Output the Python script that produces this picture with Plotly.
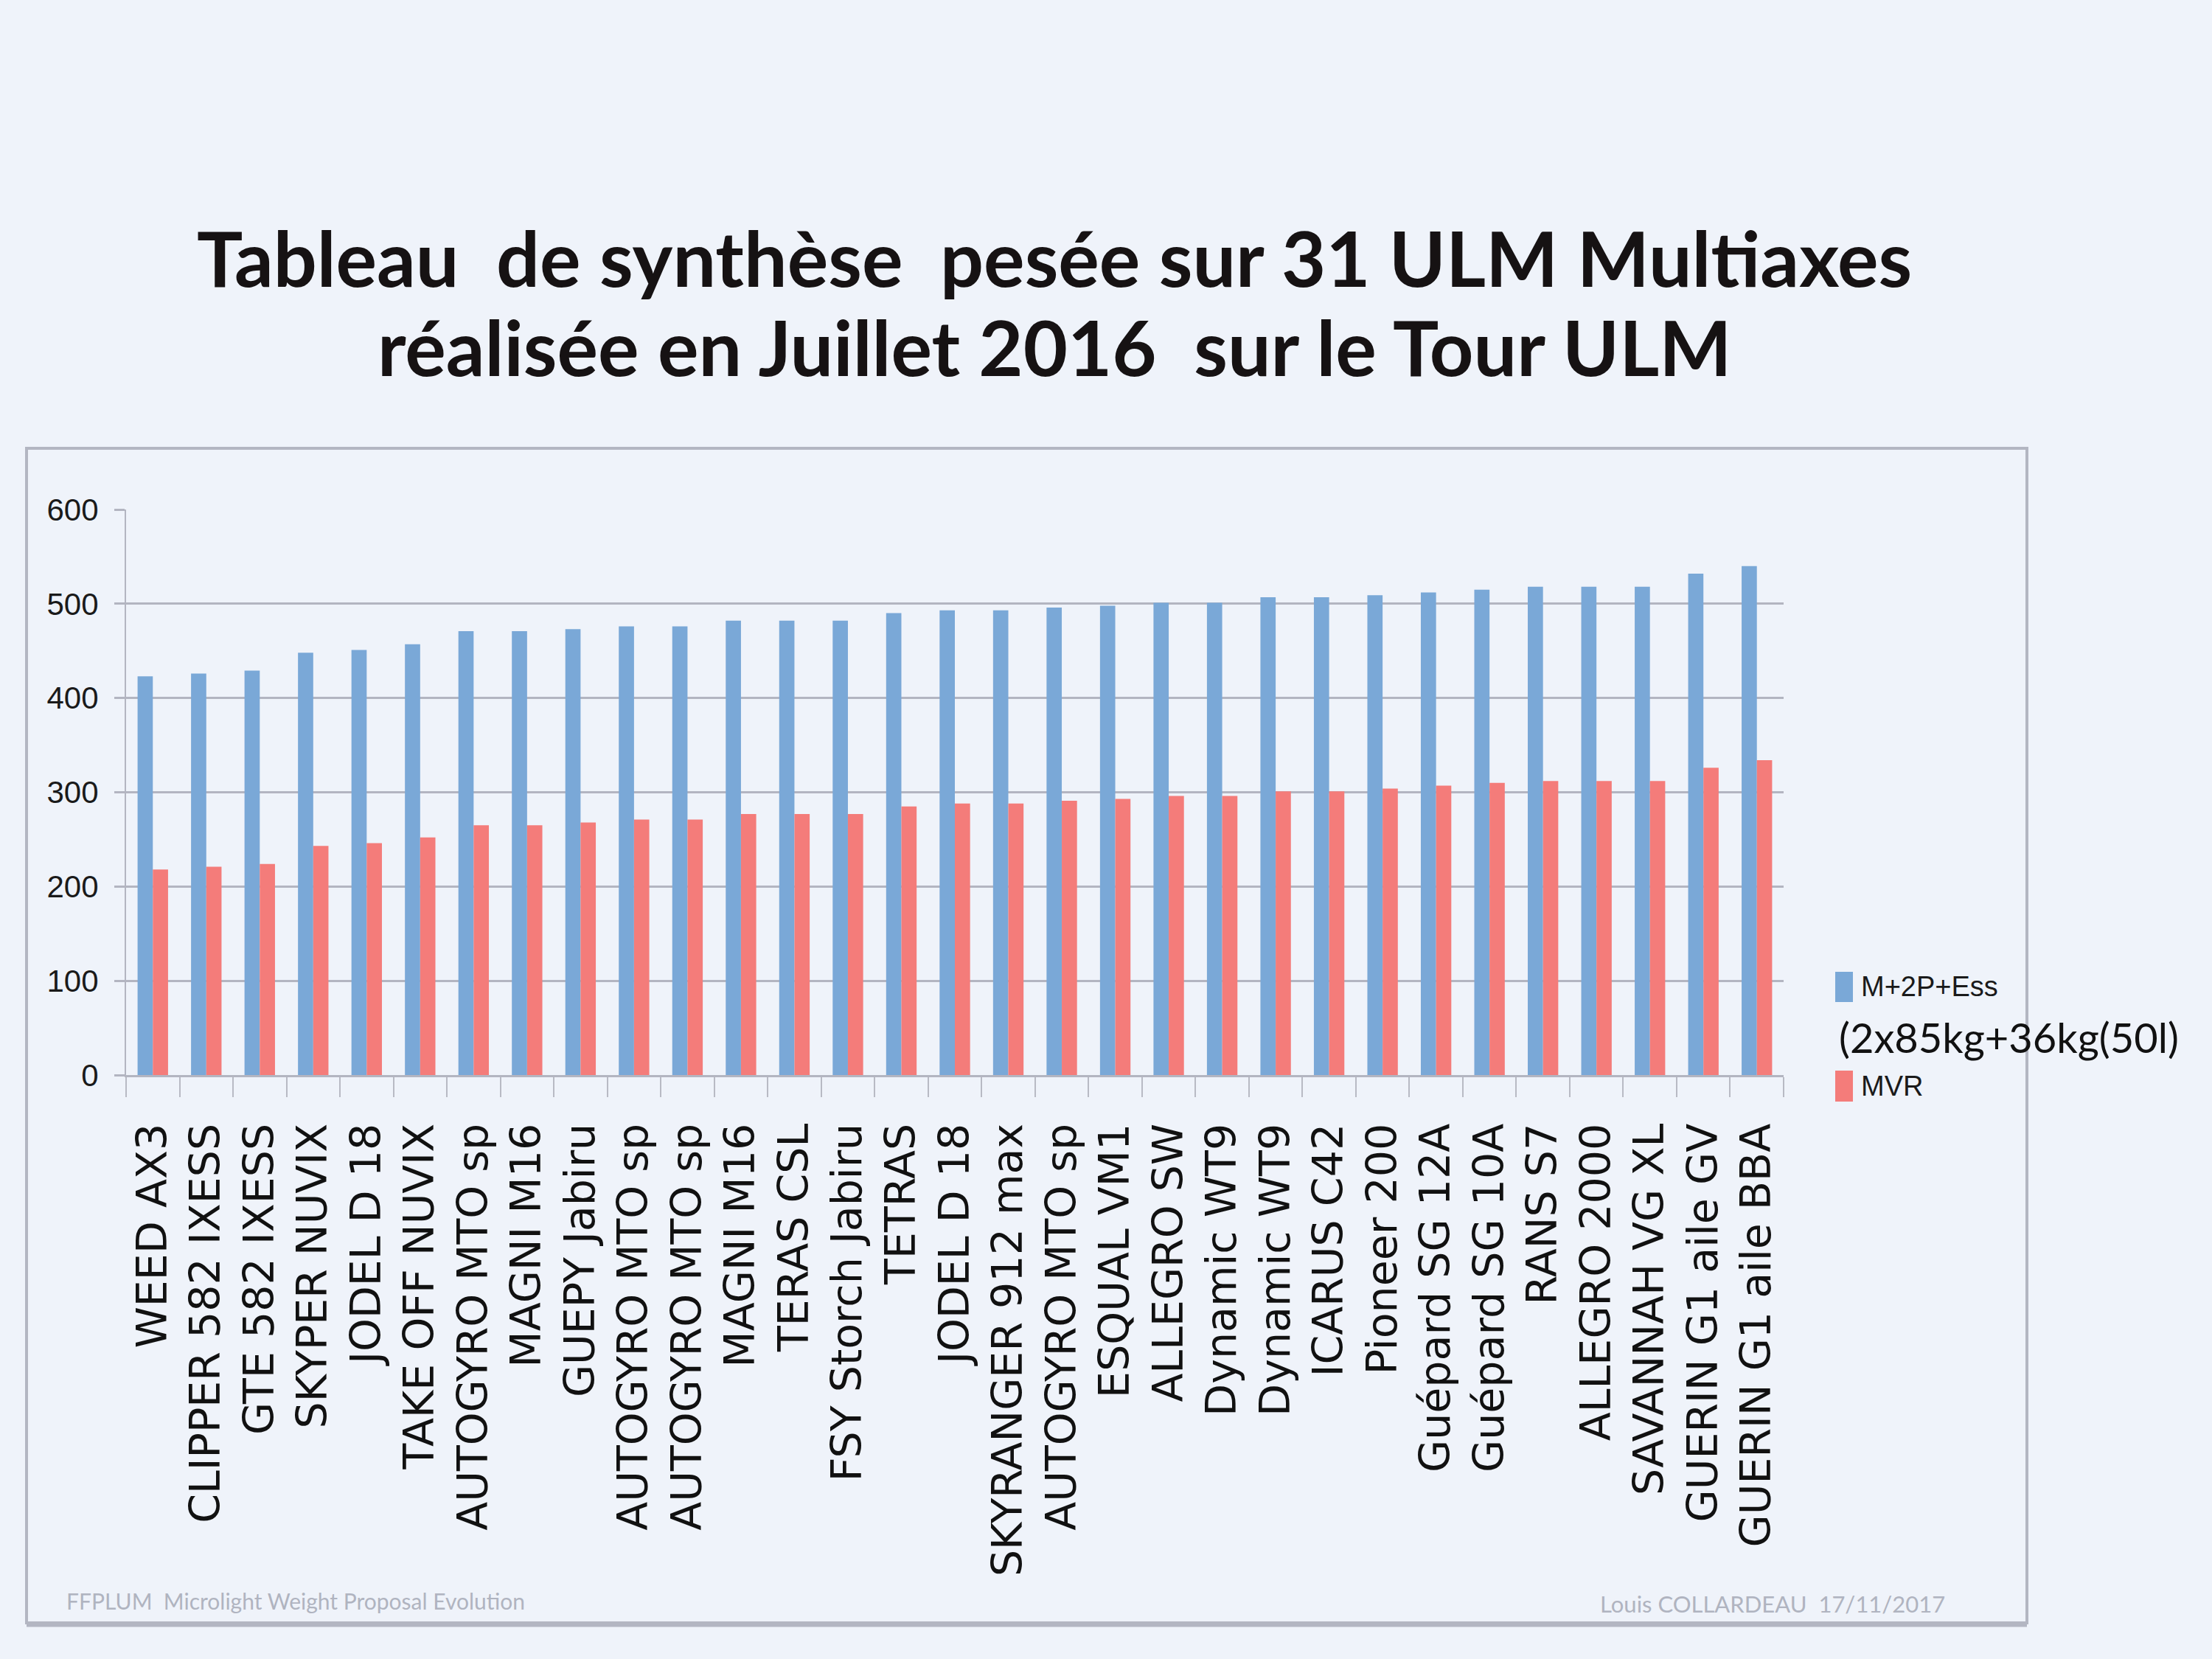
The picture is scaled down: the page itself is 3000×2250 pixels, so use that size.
import plotly.graph_objects as go

# ---------------- data ----------------
labels = [
    "WEED AX3", "CLIPPER 582 IXESS", "GTE 582 IXESS", "SKYPER NUVIX", "JODEL D 18",
    "TAKE OFF NUVIX", "AUTOGYRO MTO sp", "MAGNI M16", "GUEPY Jabiru", "AUTOGYRO MTO sp",
    "AUTOGYRO MTO sp", "MAGNI M16", "TERAS CSL", "FSY Storch Jabiru", "TETRAS",
    "JODEL D 18", "SKYRANGER 912 max", "AUTOGYRO MTO sp", "ESQUAL VM1", "ALLEGRO SW",
    "Dynamic WT9", "Dynamic WT9", "ICARUS C42", "Pioneer 200", "Guépard SG 12A",
    "Guépard SG 10A", "RANS S7", "ALLEGRO 2000", "SAVANNAH VG XL", "GUERIN G1 aile GV",
    "GUERIN G1 aile BBA",
]
m2p_ess = [423, 426, 429, 448, 451, 457, 471, 471, 473, 476,
           476, 482, 482, 482, 490, 493, 493, 496, 498, 501,
           501, 507, 507, 509, 512, 515, 518, 518, 518, 532, 540]
mvr = [218, 221, 224, 243, 246, 252, 265, 265, 268, 271,
       271, 277, 277, 277, 285, 288, 288, 291, 293, 296,
       296, 301, 301, 304, 307, 310, 312, 312, 312, 326, 334]
series_names = ["M+2P+Ess", "MVR"]
legend_note = "(2x85kg+36kg(50l)"
y_ticks = [0, 100, 200, 300, 400, 500, 600]

title_lines = ["Tableau  de synthèse  pesée sur 31 ULM Multiaxes",
               "réalisée en Juillet 2016  sur le Tour ULM"]
footer_left = "FFPLUM  Microlight Weight Proposal Evolution"
footer_right = "Louis COLLARDEAU  17/11/2017"

# ---------------- style ----------------
BG = "#eff3fa"
BLUE = "#7aa8d7"
RED = "#f47c7a"
GRID = "#b3b5c1"
FRAME = "#b3b6c2"
NARROW = "Liberation Sans Narrow, Liberation Sans, sans-serif"

W, H = 3000, 2250
L, R, T, B = 171, 2419, 691, 1458   # plot area in pixels
PW, PH = R - L, B - T


def px(xp):
    return (xp - L) / PW


def py(yp):
    return (B - yp) / PH


ids = list(range(len(labels)))

fig = go.Figure()
fig.add_trace(go.Bar(x=ids, y=m2p_ess, name=series_names[0], marker_color=BLUE,
                     marker_line_width=0))
fig.add_trace(go.Bar(x=ids, y=mvr, name=series_names[1], marker_color=RED,
                     marker_line_width=0))

fig.update_layout(
    width=W, height=H,
    margin=dict(l=L, r=W - R, t=T, b=H - B, pad=0),
    paper_bgcolor=BG, plot_bgcolor=BG,
    barmode="group", bargap=0.43, bargroupgap=0,
    showlegend=False,
)

fig.update_xaxes(
    type="category", tickmode="array", tickvals=ids, ticktext=labels,
    tickangle=-90, tickson="boundaries",
    ticks="outside", ticklen=27, tickwidth=2, tickcolor="#b8bac4",
    showline=True, linecolor=GRID, linewidth=3,
    showgrid=False, zeroline=False,
    tickfont=dict(family="DejaVu Sans", size=57, color="#111111"),
    ticklabelstandoff=40,
)
fig.update_yaxes(
    range=[0, 600], tickmode="array", tickvals=y_ticks,
    ticks="outside", ticklen=14, tickwidth=3, tickcolor=GRID,
    showline=True, linecolor=GRID, linewidth=2,
    showgrid=True, gridcolor=GRID, gridwidth=3, zeroline=False,
    tickfont=dict(family=NARROW, size=42, color="#1a1a1a"),
    ticklabelstandoff=13,
)

shapes = []
# chart frame
shapes.append(dict(type="rect", xref="paper", yref="paper",
                   x0=px(36), x1=px(2749), y0=py(2201), y1=py(608),
                   line=dict(color=FRAME, width=4), fillcolor="rgba(0,0,0,0)", layer="below"))
shapes.append(dict(type="line", xref="paper", yref="paper",
                   x0=px(36), x1=px(2749), y0=py(2203), y1=py(2203),
                   line=dict(color=FRAME, width=7)))
# legend markers
shapes.append(dict(type="rect", xref="paper", yref="paper",
                   x0=px(2489), x1=px(2513), y0=py(1359), y1=py(1318),
                   fillcolor=BLUE, line=dict(width=0)))
shapes.append(dict(type="rect", xref="paper", yref="paper",
                   x0=px(2489), x1=px(2513), y0=py(1494), y1=py(1452),
                   fillcolor=RED, line=dict(width=0)))
fig.update_layout(shapes=shapes)

ann = []
ann.append(dict(text="<b>%s</b>" % title_lines[0], x=px(1430), y=py(348),
                xref="paper", yref="paper", xanchor="center", yanchor="middle",
                showarrow=False, font=dict(family="Lato", size=104, color="#161213")))
ann.append(dict(text="<b>%s</b>" % title_lines[1], x=px(1430), y=py(469),
                xref="paper", yref="paper", xanchor="center", yanchor="middle",
                showarrow=False, font=dict(family="Lato", size=104, color="#161213")))
# legend texts
ann.append(dict(text=series_names[0], x=px(2522), y=py(1338),
                xref="paper", yref="paper", xanchor="left", yanchor="middle",
                showarrow=False, font=dict(family=NARROW, size=38, color="#1a1a1a")))
ann.append(dict(text=legend_note, x=px(2492), y=py(1406),
                xref="paper", yref="paper", xanchor="left", yanchor="middle",
                showarrow=False, font=dict(family="Lato", size=56, color="#111111")))
ann.append(dict(text=series_names[1], x=px(2522), y=py(1473),
                xref="paper", yref="paper", xanchor="left", yanchor="middle",
                showarrow=False, font=dict(family=NARROW, size=38, color="#1a1a1a")))
# footers
ann.append(dict(text=footer_left, x=px(88), y=py(2171),
                xref="paper", yref="paper", xanchor="left", yanchor="middle",
                showarrow=False, font=dict(family="Lato", size=30, color="#b0b4c0")))
ann.append(dict(text=footer_right, x=px(2168), y=py(2175),
                xref="paper", yref="paper", xanchor="left", yanchor="middle",
                showarrow=False, font=dict(family="Lato", size=31, color="#b0b4c0")))
fig.update_layout(annotations=ann)

fig.write_html("out.html")
